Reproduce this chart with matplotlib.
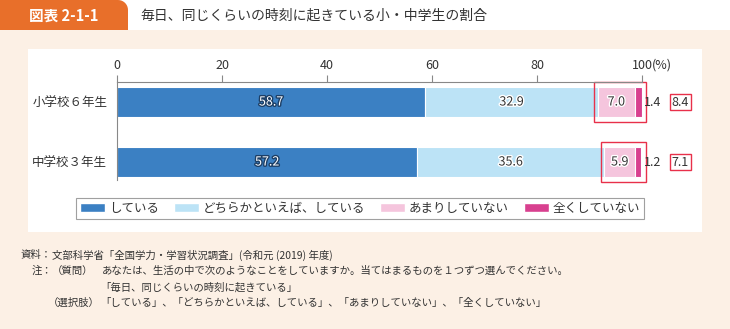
import numpy as np
import matplotlib
matplotlib.use('Agg')
import matplotlib.pyplot as plt
import matplotlib.patheffects as pe
from matplotlib.patches import Rectangle, Polygon, Patch

plt.rcParams['font.family'] = ['Noto Sans CJK JP', 'DejaVu Sans']

# data
categories = ['小学校６年生', '中学校３年生']
shiteiru = [58.7, 57.2]
dochiraka = [32.9, 35.6]
amari = [7.0, 5.9]
mattaku = [1.4, 1.2]
neg_total = [8.4, 7.1]
series_labels = ['している', 'どちらかといえば、している', 'あまりしていない', '全くしていない']
x_ticks = [0, 20, 40, 60, 80, 100]

colors = ['#3b80c3', '#bce3f6', '#f5c5dd', '#d8408f']
cream = '#fcf0e5'
orange = '#e86f2a'
red = '#e8304a'
txt = '#333333'

W, H = 730, 329
fig = plt.figure(figsize=(W / 100, H / 100), dpi=100, facecolor=cream)

# background layer in pixel coords
bg = fig.add_axes([0, 0, 1, 1], zorder=0)
bg.set_xlim(0, W)
bg.set_ylim(H, 0)
bg.axis('off')
bg.add_patch(Rectangle((0, 0), W, 30, facecolor='white', edgecolor='none'))
# header tag with rounded top-right corner
r = 10
ang = np.linspace(np.pi / 2, 0, 10)
pts = [(0, 30), (0, 0)] + [(128 - r + r * np.cos(a), r - r * np.sin(a)) for a in ang] + [(128, 30)]
bg.add_patch(Polygon(pts, closed=True, facecolor=orange, edgecolor='none'))
bg.text(64, 15.5, '図表 2-1-1', color='white', fontsize=10.5, fontweight='bold',
        ha='center', va='center')
bg.text(140, 15.5, '毎日、同じくらいの時刻に起きている小・中学生の割合', color=txt,
        fontsize=10, ha='left', va='center')
# white panel
bg.add_patch(Rectangle((28, 49), 674, 183, facecolor='white', edgecolor='none'))
bg.text(652, 65, '(%)', fontsize=9, color=txt, ha='left', va='center')

# notes
nfs = 7.5
bg.text(52, 255, '資料：', fontsize=nfs, color=txt, ha='right', va='center')
bg.text(52, 255, '文部科学省「全国学力・学習状況調査」(令和元 (2019) 年度)', fontsize=nfs,
        color=txt, ha='left', va='center')
bg.text(52, 271, '注：', fontsize=nfs, color=txt, ha='right', va='center')
bg.text(52, 271, '（質問）', fontsize=nfs, color=txt, ha='left', va='center')
bg.text(102, 271, 'あなたは、生活の中で次のようなことをしていますか。当てはまるものを１つずつ選んでください。',
        fontsize=nfs, color=txt, ha='left', va='center')
bg.text(100, 287, '「毎日、同じくらいの時刻に起きている」', fontsize=nfs, color=txt,
        ha='left', va='center')
bg.text(100, 303, '（選択肢）', fontsize=nfs, color=txt, ha='right', va='center')
bg.text(100, 303, '「している」、「どちらかといえば、している」、「あまりしていない」、「全くしていない」',
        fontsize=nfs, color=txt, ha='left', va='center')

# chart axes: x 117..642 px, y 82..180 px
ax = fig.add_axes([117 / W, (H - 180) / H, 525 / W, 98 / H], zorder=2)
ax.patch.set_alpha(0)
y = np.arange(len(categories))
left = np.zeros(len(categories))
series = [shiteiru, dochiraka, amari, mattaku]
for vals, c, lab in zip(series, colors, series_labels):
    ax.barh(y, vals, left=left, height=0.5, color=c, edgecolor='white', linewidth=0.8, label=lab)
    left = left + np.array(vals)

ax.set_xlim(0, 100)
ax.set_ylim(1.3, -1 / 3)
ax.xaxis.tick_top()
ax.set_xticks(x_ticks)
ax.set_xticklabels([str(t) for t in x_ticks])
ax.tick_params(axis='x', length=5, width=0.8, color='#888888', labelsize=9, labelcolor=txt, pad=2)
ax.set_yticks(y)
ax.set_yticklabels(categories, fontsize=9, color=txt)
ax.tick_params(axis='y', length=0, pad=7)
for s in ['right', 'bottom']:
    ax.spines[s].set_visible(False)
for s in ['top', 'left']:
    ax.spines[s].set_color('#888888')
    ax.spines[s].set_linewidth(0.8)

dark_fx = [pe.withStroke(linewidth=2, foreground='#1d3f66')]
light_fx = [pe.withStroke(linewidth=2, foreground='white')]
for i in range(len(categories)):
    ax.text(shiteiru[i] / 2, y[i], f'{shiteiru[i]:.1f}', ha='center', va='center',
            fontsize=9, color='white', path_effects=dark_fx)
    ax.text(shiteiru[i] + dochiraka[i] / 2, y[i], f'{dochiraka[i]:.1f}', ha='center',
            va='center', fontsize=9, color=txt, path_effects=light_fx)
    s = shiteiru[i] + dochiraka[i]
    ax.text(s + amari[i] / 2, y[i], f'{amari[i]:.1f}', ha='center', va='center',
            fontsize=9, color=txt, path_effects=light_fx)
    ax.text(100.3, y[i], f'{mattaku[i]:.1f}', ha='left', va='center', fontsize=9,
            color=txt, clip_on=False)
    ax.add_patch(Rectangle((s - 0.7, y[i] - 0.333), 100 - s + 1.5, 0.666, fill=False,
                           edgecolor=red, linewidth=1.0, clip_on=False))
    ax.text(107.3, y[i], f'{neg_total[i]:.1f}', ha='center', va='center', fontsize=9,
            color=txt, clip_on=False,
            bbox=dict(boxstyle='square,pad=0.15', facecolor='white', edgecolor=red, linewidth=1.0))

handles = [Patch(facecolor=c, edgecolor='white') for c in colors]
leg = fig.legend(handles, series_labels, loc='center', bbox_to_anchor=(360 / W, (H - 208.5) / H),
                 ncol=4, frameon=True, fancybox=False, fontsize=9, handlelength=2.0,
                 handleheight=0.7, handletextpad=0.3, columnspacing=1.2, borderpad=0.35)
leg.get_frame().set_edgecolor('#888888')
leg.get_frame().set_linewidth(0.8)
for t in leg.get_texts():
    t.set_color(txt)

fig.savefig('out.png', dpi=100, facecolor=cream)
